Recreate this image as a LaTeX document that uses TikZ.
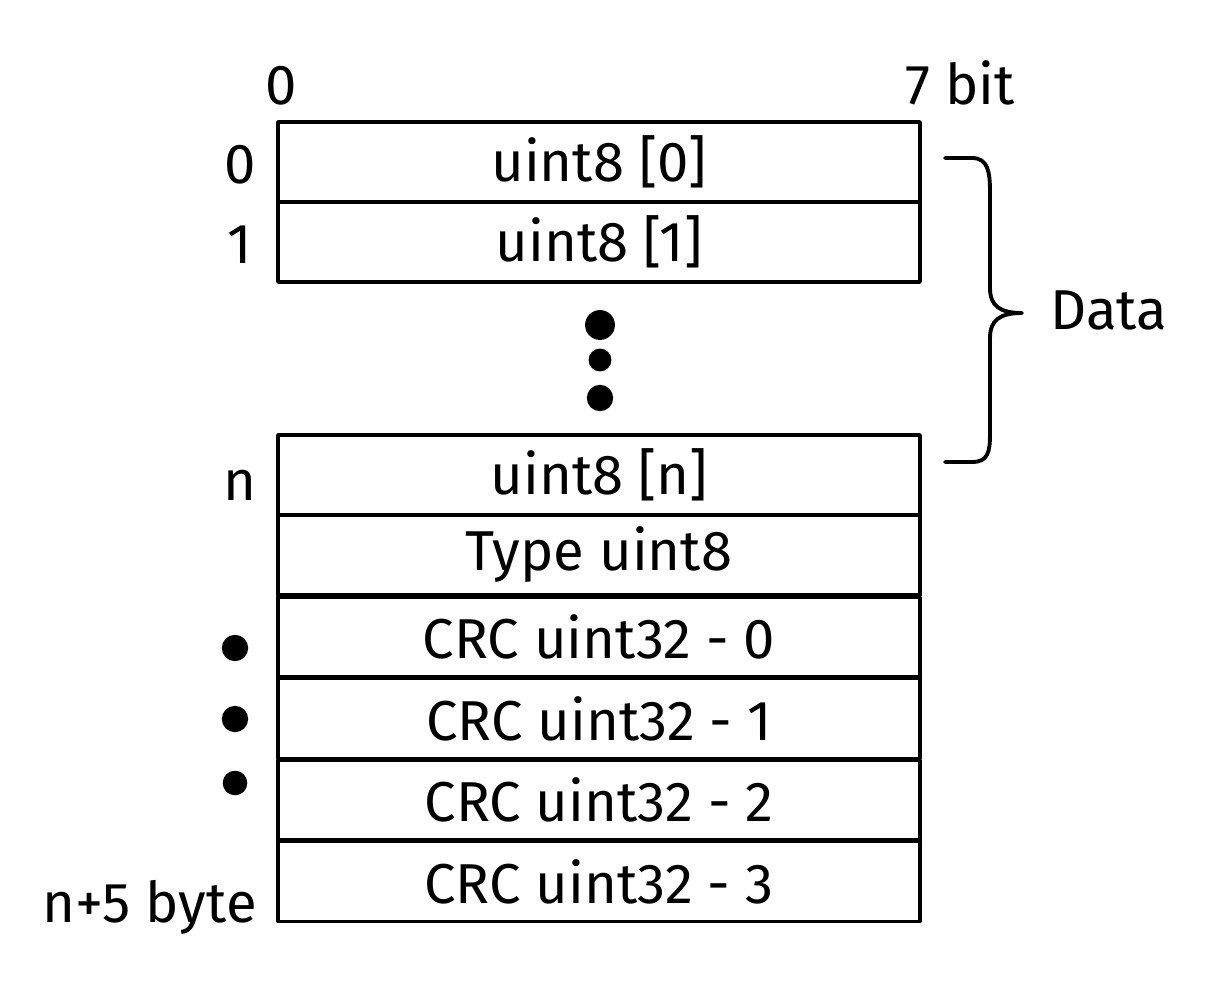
\documentclass[tikz,border=0pt]{standalone}
\usepackage{fontspec}
\setmainfont{Fira Sans}
\usetikzlibrary{calc,positioning,shapes}

\newcommand{\bigtext}{\fontsize{32}{38}\selectfont}

\begin{document}
\begin{tikzpicture}[x=0.02cm,y=-0.02cm,line join=round,line cap=round,
    byterow/.style={draw,line width=2.2pt,rectangle,minimum width=12.84cm,minimum height=1.6cm,inner sep=0pt,font=\bigtext},
    lbl/.style={inner sep=0pt,font=\bigtext},
    blob/.style={circle,fill,inner sep=0pt}]

  \useasboundingbox (0,0) rectangle (1232,984);

  % bit numbers on top
  \node [lbl,anchor=base] (bit_first) at (281,104) {0};
  \node [lbl,anchor=base] (bit_last) at (960,104) {7 bit};

  % data bytes
  \node [byterow] at (599,162) (row_0) {uint8 [0]};
  \node [byterow] at (599,242) (row_1) {uint8 [1]};
  \node [byterow] at (599,475) (row_n) {uint8 [n]};
  \node [byterow] at (599,555) (row_type) {Type uint8};

  \foreach \n in {0,...,3}
  {
    \pgfmathsetmacro\rowy{637+\n*81.5}
    \node [byterow] at (599,\rowy) (crc_\n) {CRC uint32 - \n};
  }

  % byte numbers on the left
  \node [lbl,anchor=base] (idx_0) at (240,183) {0};
  \node [lbl,anchor=base] (idx_1) at (240,263) {1};
  \node [lbl,anchor=base] (idx_n) at (240,500) {n};
  \node [lbl,anchor=base east] (idx_last) at (257,922) {n+5 byte};

  % dots
  \node [blob,minimum size=17pt] (gap_dot_0) at (600,325) {};
  \node [blob,minimum size=13pt] (gap_dot_1) at (600,360) {};
  \node [blob,minimum size=15pt] (gap_dot_2) at (600,398) {};
  \node [blob,minimum size=15pt] (crc_dot_0) at (235,648) {};
  \node [blob,minimum size=15pt] (crc_dot_1) at (235,719) {};
  \node [blob,minimum size=14pt] (crc_dot_2) at (235,783) {};

  % brace over the data
  \coordinate (brace_top) at (945,158);
  \coordinate (brace_bot) at (945,462);
  \coordinate (brace_tip) at (1022,313);
  \draw [line width=2.2pt] (brace_top) -- (972,158)
    .. controls (988,158) and (990,172) .. (990,192) -- (990,288)
    .. controls (990,306) and (1000,313) .. (brace_tip)
    .. controls (1000,313) and (990,320) .. (990,338) -- (990,434)
    .. controls (990,452) and (988,462) .. (972,462) -- (brace_bot);
  \node [lbl,anchor=west] (data_label) at (1050,310) {Data};

\end{tikzpicture}
\end{document}
